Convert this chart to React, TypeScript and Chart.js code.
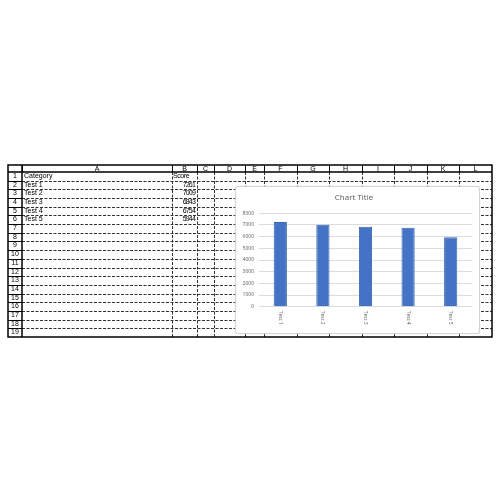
import React, { useEffect, useRef } from "react";
import { Chart, registerables } from "chart.js";

Chart.register(...registerables);

const categories = ["Test 1", "Test 2", "Test 3", "Test 4", "Test 5"];
const scores = [7261, 7009, 6843, 6754, 5944];
const headerLabels = ["Category", "Score"];
const columnLetters = ["A", "B", "C", "D", "E", "F", "G", "H", "I", "J", "K", "L"];
const rowCount = 19;
const yTickMax = 8000;
const yTickStep = 1000;
const chartTitle = "Chart Title";

// layout (page pixels)
const COLS = [8, 22, 172, 197, 214, 245, 264, 297, 329, 362, 394, 427, 459, 492];
const TOP = 165;
const HEAD_BOTTOM = 172;
const BOTTOM = 337;
const ROW_H = (BOTTOM - HEAD_BOTTOM) / rowCount;
const CHART_BOX = { left: 236, top: 187, width: 243, height: 146 };

const xLabelPlugin = {
  id: "xLabelsRotated",
  afterDraw(chart: any) {
    const { ctx, chartArea } = chart;
    const x = chart.scales.x;
    ctx.save();
    ctx.fillStyle = "#595959";
    ctx.font = '5px "Open Sans"';
    categories.forEach((c, i) => {
      const px = x.getPixelForTick(i);
      ctx.save();
      ctx.translate(px, chartArea.bottom + 4);
      ctx.rotate(Math.PI / 2);
      ctx.textAlign = "left";
      ctx.textBaseline = "middle";
      ctx.fillText(c, 0, 0);
      ctx.restore();
    });
    ctx.restore();
  },
};

function GridCanvas() {
  const ref = useRef<HTMLCanvasElement | null>(null);
  useEffect(() => {
    const cv = ref.current;
    if (!cv) return;
    const ctx = cv.getContext("2d")!;
    ctx.clearRect(0, 0, 500, 500);
    ctx.fillStyle = "#fff";
    ctx.fillRect(0, 0, 500, 500);
    // body dashed lines
    ctx.strokeStyle = "#333";
    ctx.lineWidth = 1;
    ctx.setLineDash([3, 1.5]);
    for (let r = 1; r < rowCount; r++) {
      const y = Math.round(HEAD_BOTTOM + r * ROW_H) + 0.5;
      ctx.beginPath();
      ctx.moveTo(COLS[1], y);
      ctx.lineTo(COLS[COLS.length - 1], y);
      ctx.stroke();
    }
    for (let c = 2; c < COLS.length - 1; c++) {
      const x = COLS[c] + 0.5;
      ctx.beginPath();
      ctx.moveTo(x, HEAD_BOTTOM);
      ctx.lineTo(x, BOTTOM);
      ctx.stroke();
    }
    ctx.setLineDash([]);
    ctx.strokeStyle = "#000";
    // header column separators
    for (let c = 1; c < COLS.length - 1; c++) {
      const x = COLS[c] + 0.5;
      ctx.beginPath();
      ctx.moveTo(x, TOP);
      ctx.lineTo(x, HEAD_BOTTOM);
      ctx.stroke();
    }
    // row header separators
    for (let r = 1; r < rowCount; r++) {
      const y = Math.round(HEAD_BOTTOM + r * ROW_H) + 0.5;
      ctx.beginPath();
      ctx.moveTo(COLS[0], y);
      ctx.lineTo(COLS[1], y);
      ctx.stroke();
    }
    ctx.lineWidth = 1.5;
    ctx.beginPath();
    ctx.moveTo(COLS[0], HEAD_BOTTOM);
    ctx.lineTo(COLS[COLS.length - 1], HEAD_BOTTOM);
    ctx.moveTo(COLS[1], TOP);
    ctx.lineTo(COLS[1], BOTTOM);
    ctx.stroke();
    ctx.strokeRect(COLS[0], TOP, COLS[COLS.length - 1] - COLS[0], BOTTOM - TOP);
  }, []);
  return (
    <canvas
      ref={ref}
      width={500}
      height={500}
      style={{ position: "absolute", left: 0, top: 0, width: 500, height: 500 }}
    />
  );
}

function BarChart() {
  const ref = useRef<HTMLCanvasElement | null>(null);
  useEffect(() => {
    if (!ref.current) return;
    const chart = new Chart(ref.current, {
      type: "bar",
      data: {
        labels: categories,
        datasets: [
          {
            label: "Score",
            data: scores,
            backgroundColor: "#4472C4",
            borderColor: "#3a66b5",
            borderWidth: 1,
            barPercentage: 1,
            categoryPercentage: 0.31,
          },
        ],
      },
      options: {
        responsive: false,
        animation: false,
        devicePixelRatio: 1,
        layout: { padding: { left: 0, right: 7, top: 0, bottom: 0 } },
        plugins: {
          legend: { display: false },
          tooltip: { enabled: false },
          title: {
            display: true,
            text: chartTitle,
            color: "#595959",
            font: { family: '"Open Sans"', size: 8, weight: "normal" },
            padding: { top: 6, bottom: 10.7 },
          },
        },
        scales: {
          x: {
            grid: { display: false },
            border: { display: false },
            ticks: { display: false },
            afterFit: (s: any) => {
              s.height = 26.3;
            },
          },
          y: {
            min: 0,
            max: yTickMax,
            grid: { color: "#dcdcdc", lineWidth: 1, drawTicks: false },
            border: { display: false },
            ticks: {
              stepSize: yTickStep,
              color: "#595959",
              padding: 5,
              font: { family: '"Open Sans"', size: 5 },
              callback: (v: any) => String(v),
            },
            afterFit: (s: any) => {
              s.width = 23;
            },
          },
        },
      },
      plugins: [xLabelPlugin],
    });
    return () => chart.destroy();
  }, []);
  return (
    <div
      style={{
        position: "absolute",
        left: CHART_BOX.left,
        top: CHART_BOX.top,
        width: CHART_BOX.width,
        height: CHART_BOX.height,
        background: "#fff",
        boxShadow: "0 0 1px 0.5px #d0d0d0",
        borderRadius: 2,
      }}
    >
      <canvas ref={ref} width={CHART_BOX.width} height={CHART_BOX.height} style={{ display: "block" }} />
    </div>
  );
}

const cellFont: React.CSSProperties = {
  position: "absolute",
  fontFamily: '"Liberation Sans", Arial, sans-serif',
  fontSize: 7,
  color: "#000",
  whiteSpace: "nowrap",
};

export default function App() {
  const texts: React.ReactNode[] = [];
  // column letters
  columnLetters.forEach((L, i) => {
    const l = COLS[i + 1];
    const r = COLS[i + 2];
    texts.push(
      <div key={"c" + L} style={{ ...cellFont, left: l, width: r - l, top: TOP, height: HEAD_BOTTOM - TOP, lineHeight: `${HEAD_BOTTOM - TOP + 1}px`, textAlign: "center" }}>
        {L}
      </div>
    );
  });
  // row numbers
  for (let r = 0; r < rowCount; r++) {
    const y = HEAD_BOTTOM + r * ROW_H;
    texts.push(
      <div key={"r" + r} style={{ ...cellFont, left: COLS[0], width: COLS[1] - COLS[0], top: y, height: ROW_H, lineHeight: `${ROW_H}px`, textAlign: "center" }}>
        {r + 1}
      </div>
    );
  }
  // header row 1
  texts.push(
    <div key="h0" style={{ ...cellFont, left: COLS[1] + 2, top: HEAD_BOTTOM, height: ROW_H, lineHeight: `${ROW_H}px` }}>
      {headerLabels[0]}
    </div>
  );
  texts.push(
    <div key="h1" style={{ ...cellFont, left: COLS[2] + 1, top: HEAD_BOTTOM, height: ROW_H, lineHeight: `${ROW_H}px`, letterSpacing: -0.4 }}>
      {headerLabels[1]}
    </div>
  );
  categories.forEach((c, i) => {
    const y = HEAD_BOTTOM + (i + 1) * ROW_H;
    texts.push(
      <div key={"a" + i} style={{ ...cellFont, left: COLS[1] + 2, top: y, height: ROW_H, lineHeight: `${ROW_H}px` }}>
        {c}
      </div>
    );
    texts.push(
      <div key={"b" + i} style={{ ...cellFont, left: COLS[2], width: COLS[3] - COLS[2] - 2, top: y, height: ROW_H, lineHeight: `${ROW_H}px`, textAlign: "right", letterSpacing: -0.8 }}>
        {scores[i]}
      </div>
    );
  });

  return (
    <div style={{ position: "absolute", left: 0, top: 0, width: 500, height: 500, background: "#fff", overflow: "hidden" }}>
      <GridCanvas />
      {texts}
      <BarChart />
    </div>
  );
}
